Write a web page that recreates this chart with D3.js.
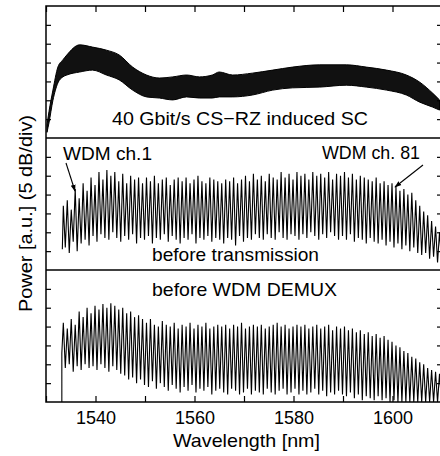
<!DOCTYPE html>
<html><head><meta charset="utf-8">
<script src="https://cdn.jsdelivr.net/npm/d3@7"></script>
<style>
html,body{margin:0;padding:0;background:#fff;}
svg{display:block;font-family:"Liberation Sans",Arial,sans-serif;}
</style></head>
<body><div id="chart"></div>
<script>
// ---------- DATA ----------
const xTicks = [1530, 1540, 1550, 1560, 1570, 1580, 1590, 1600, 1610];
const xTickLabels = [1540, 1560, 1580, 1600];
const yTicks = [-30, -25, -20, -15, -10, -5];   // dB, 5 dB/div

// Top panel: 40 Gbit/s CS-RZ induced SC (dense comb, drawn as envelope band)
const topNm    = [1530.2,1530.6,1531.4,1532.4,1533.4,1534.2,1536.8,1539.4,1542.2,1544.8,1547.5,1550.3,1552.9,1555.6,1558.4,1561.0,1563.6,1565.0,1567.7,1571.7,1575.8,1579.8,1585.3,1590.7,1594.7,1598.8,1602.8,1605.5,1608.1,1609.5];
const topUpper = [-31.5,-28,-22.3,-16.2,-14.3,-13,-10.3,-10.9,-11.7,-13,-16.2,-18.3,-19.1,-18.8,-18.3,-18.8,-18.3,-17.5,-18.3,-17.8,-17.0,-16.2,-15.6,-15.6,-16.2,-17.0,-18.3,-20.2,-23.1,-24.9];
const topLower = [-33.5,-31,-25,-20.4,-18.8,-18.3,-17.5,-17,-18.3,-19.6,-22.3,-24.1,-24.4,-24.9,-24.1,-24.4,-24.4,-24.1,-24.1,-23.6,-22.3,-21.7,-21.5,-21,-21.5,-22.3,-23.6,-25.5,-26.8,-27.6];

// WDM channel grid (100 GHz) shared by middle and bottom panels
const channelNm = [
1533.5,1534.3,1535.1,1535.9,1536.7,1537.5,1538.3,1539.1,1539.9,1540.7,
1541.5,1542.3,1543.1,1543.9,1544.7,1545.5,1546.3,1547.1,1547.9,1548.7,
1549.5,1550.3,1551.1,1551.9,1552.7,1553.5,1554.3,1555.1,1555.9,1556.7,
1557.5,1558.3,1559.1,1559.9,1560.7,1561.5,1562.3,1563.1,1563.9,1564.7,
1565.5,1566.3,1567.1,1567.9,1568.7,1569.5,1570.3,1571.1,1571.9,1572.7,
1573.5,1574.3,1575.1,1575.9,1576.7,1577.5,1578.3,1579.1,1579.9,1580.7,
1581.5,1582.3,1583.1,1583.9,1584.7,1585.5,1586.3,1587.1,1587.9,1588.7,
1589.5,1590.3,1591.1,1591.9,1592.7,1593.5,1594.3,1595.1,1595.9,1596.7,
1597.5,1598.3,1599.1,1599.9,1600.7,1601.5,1602.3,1603.1,1603.9,1604.7,
1605.5,1606.3,1607.1,1607.9,1608.7,1609.5];

// Middle panel: before transmission
const midLead = [1533.3, -29.5];
const midPeak = [
-18,-16.5,-19,-13.5,-16,-12,-14,-10.5,-12.5,-9,
-11,-8.5,-10,-9,-11.5,-9.5,-12,-10,-11,-10.5,
-12,-10.5,-11.5,-10,-12,-11,-10.5,-12.5,-11,-10.5,
-11.5,-10.5,-12,-11,-10,-11.5,-12,-10.5,-11,-11.5,
-12,-11,-11.5,-10.5,-12,-11,-10,-11.5,-9.5,-11,
-10,-11.5,-9.5,-10.5,-11,-9,-10.5,-9.5,-11,-9,
-10,-9.5,-11,-9,-10,-9.5,-10.5,-9,-11,-9.5,
-10,-9,-10.5,-9.5,-11,-10,-10.5,-11,-11.5,-10.5,
-12,-11.5,-12.5,-12,-13,-14,-13.5,-15,-14.5,-16.5,
-18,-19.5,-20.5,-22,-23.5,-25];
const midTrough = [
-29,-30.5,-27.5,-30,-28,-27,-28.5,-26,-27.5,-25.5,
-26.5,-27,-25,-26.5,-27.5,-26,-27,-25.5,-28,-26.5,
-27,-26,-28,-26.5,-27,-25.5,-27.5,-26,-27,-28,
-26.5,-27,-25.5,-28,-26.5,-27,-26,-27.5,-26.5,-27,
-28,-26.5,-27,-28.5,-26,-27.5,-26.5,-27,-25.5,-26.5,
-27,-25.5,-26.5,-27,-25,-26.5,-27,-25.5,-26,-27,
-25.5,-26.5,-25,-26,-27,-25.5,-26.5,-25,-26,-27,
-26,-27,-25.5,-27.5,-26.5,-27,-28,-26.5,-27.5,-28,
-27,-28.5,-27.5,-29,-28,-29.5,-28.5,-30,-29,-30.5,
-31,-30.5,-32,-31.5,-33,-32.5];

// Bottom panel: before WDM DEMUX
const botLead = [[1533.2, -35], [1533.2, -22]];
const botPeak = [
-14,-15.5,-13,-14.5,-11,-12.5,-10,-11.5,-9.5,-10.5,
-9,-10,-8.8,-9.5,-10.5,-10,-11.5,-11,-12.5,-12,
-13,-14,-13,-14.5,-15,-13.5,-14.5,-15,-14,-15.5,
-14.5,-15,-14,-15.5,-14.5,-15,-14,-15.5,-15,-14.5,
-15,-14.5,-15.5,-14.5,-15,-14,-15.5,-15,-14.5,-15,
-14.5,-15.5,-15,-14.5,-14,-15,-14.5,-15.5,-15,-14.5,
-15,-14.5,-15.5,-15,-14.5,-15.5,-15,-14.5,-16,-15,
-15.5,-15,-16,-15.5,-16.5,-16,-17,-16.5,-17.5,-17,
-18,-17.5,-18.5,-19,-20,-20.5,-21.5,-22,-23,-23.5,
-24.5,-25,-26,-26.5,-27,-27.5];
const botTrough = [
-26,-25,-27,-25.5,-26.5,-25,-26,-25.5,-26.5,-25,
-26,-27,-25.5,-26.5,-27.5,-28,-29,-28.5,-30,-29,
-30.5,-31,-29.5,-31.5,-30,-31,-32,-30.5,-31.5,-32.5,
-31,-32,-30.5,-32.5,-31.5,-32,-31,-33,-32,-31.5,
-32.5,-33,-31.5,-32,-33,-32.5,-31.5,-33,-32,-32.5,
-33,-31.5,-32.5,-33,-32,-31.5,-33,-32.5,-31.5,-33,
-32,-33,-32.5,-31.5,-33,-32,-33.5,-32.5,-33,-32,
-33,-33.5,-32.5,-34,-33,-34.5,-33.5,-34,-34.5,-33.5,
-34.5,-34,-35,-34.5,-35,-35,-35,-35,-35,-35,
-35,-35,-35,-35,-35,-35];

// ---------- LAYOUT ----------
const W = 440, H = 456;
const plotL = 46, plotR = 442, plotT = 6, panelH = 132;
const panelTops = [plotT, plotT + panelH, plotT + 2 * panelH];
const plotB = plotT + 3 * panelH;

const svg = d3.select("#chart").append("svg").attr("width", W).attr("height", H);
const x = d3.scaleLinear().domain([1530, 1610]).range([plotL, plotR]);
const yScales = panelTops.map(t => d3.scaleLinear().domain([-35, 0]).range([t + panelH, t]));

// clip paths
const defs = svg.append("defs");
panelTops.forEach((t, i) => {
  defs.append("clipPath").attr("id", "clip" + i)
    .append("rect").attr("x", plotL).attr("y", t).attr("width", plotR - plotL).attr("height", panelH);
});
defs.append("marker").attr("id", "arrow").attr("viewBox", "0 0 10 10")
  .attr("refX", 9).attr("refY", 5).attr("markerWidth", 7).attr("markerHeight", 7)
  .attr("markerUnits", "userSpaceOnUse").attr("orient", "auto")
  .append("path").attr("d", "M0,1.5 L10,5 L0,8.5 Z").attr("fill", "#000");

// build traces
function combTrace(lead, peaks, troughs) {
  const pts = lead.slice();
  channelNm.forEach((c, i) => {
    pts.push([c, peaks[i]]);
    const next = i < channelNm.length - 1 ? channelNm[i + 1] : c + (c - channelNm[i - 1]);
    pts.push([(c + next) / 2, troughs[i]]);
  });
  return pts;
}

// top panel band
const yT = yScales[0];
const band = topNm.map((n, i) => [n, topUpper[i], topLower[i]]);
svg.append("g").attr("clip-path", "url(#clip0)")
  .append("path").datum(band)
  .attr("d", d3.area().x(d => x(d[0])).y0(d => yT(d[2])).y1(d => yT(d[1])).curve(d3.curveMonotoneX))
  .attr("fill", "#111").attr("stroke", "#000").attr("stroke-width", 1);

// middle trace
const line1 = d3.line().x(d => x(d[0])).y(d => yScales[1](d[1]));
svg.append("g").attr("clip-path", "url(#clip1)")
  .append("path").datum(combTrace([midLead], midPeak, midTrough))
  .attr("d", line1).attr("fill", "none").attr("stroke", "#000").attr("stroke-width", 1.1);

// bottom trace
const line2 = d3.line().x(d => x(d[0])).y(d => yScales[2](d[1]));
svg.append("g").attr("clip-path", "url(#clip2)")
  .append("path").datum(combTrace(botLead, botPeak, botTrough))
  .attr("d", line2).attr("fill", "none").attr("stroke", "#000").attr("stroke-width", 1.1);

// axes: x ticks (inward) top & bottom
const xb = svg.append("g").attr("transform", `translate(0,${plotB})`)
  .call(d3.axisBottom(x).tickValues(xTicks).tickSizeInner(-6).tickSizeOuter(0).tickPadding(9)
    .tickFormat(d => xTickLabels.includes(d) ? d : ""));
const xt = svg.append("g").attr("transform", `translate(0,${plotT})`)
  .call(d3.axisTop(x).tickValues(xTicks).tickSizeInner(-6).tickSizeOuter(0).tickFormat(""));
[xb, xt].forEach(g => {
  g.select(".domain").remove();
  g.selectAll(".tick line").attr("stroke", "#000").attr("stroke-width", 1.2);
});
xb.selectAll(".tick text").attr("font-size", 18).attr("font-family", "Liberation Sans, Arial, sans-serif").attr("fill", "#000");

// y ticks per panel, left and right
yScales.forEach(ys => {
  const gl = svg.append("g").attr("transform", `translate(${plotL},0)`)
    .call(d3.axisLeft(ys).tickValues(yTicks).tickSizeInner(-5).tickSizeOuter(0).tickFormat(""));
  const gr = svg.append("g").attr("transform", `translate(${plotR},0)`)
    .call(d3.axisRight(ys).tickValues(yTicks).tickSizeInner(-5).tickSizeOuter(0).tickFormat(""));
  [gl, gr].forEach(g => {
    g.select(".domain").remove();
    g.selectAll(".tick line").attr("stroke", "#000").attr("stroke-width", 1.2);
  });
});

// frame and dividers
svg.append("rect").attr("x", plotL).attr("y", plotT).attr("width", plotR - plotL).attr("height", plotB - plotT)
  .attr("fill", "none").attr("stroke", "#000").attr("stroke-width", 1.5);
[panelTops[1], panelTops[2]].forEach(t => {
  svg.append("line").attr("x1", plotL).attr("x2", plotR).attr("y1", t).attr("y2", t)
    .attr("stroke", "#000").attr("stroke-width", 1.5);
});

// texts
function txt(s, xx, yy, len, opts = {}) {
  const t = svg.append("text").attr("x", xx).attr("y", yy).text(s)
    .attr("font-size", opts.size || 19).attr("fill", "#000");
  if (len) t.attr("textLength", len).attr("lengthAdjust", "spacingAndGlyphs");
  if (opts.transform) t.attr("transform", opts.transform);
  return t;
}
txt("40 Gbit/s CS\u2212RZ induced SC", 112, 125, 256);
txt("WDM ch.1", 63, 160, 89);
txt("WDM ch. 81", 322, 159, 98);
txt("before transmission", 152, 261, 167);
txt("before WDM DEMUX", 152, 296, 185);
txt("Wavelength [nm]", 173, 447, 147);
txt("Power [a.u.] (5 dB/div)", 0, 0, 197, { transform: "translate(32,312) rotate(-90)" });

// arrows
svg.append("line").attr("x1", 66).attr("y1", 163).attr("x2", 75).attr("y2", 191)
  .attr("stroke", "#000").attr("stroke-width", 1.1).attr("marker-end", "url(#arrow)");
svg.append("line").attr("x1", 423).attr("y1", 165).attr("x2", 395).attr("y2", 187)
  .attr("stroke", "#000").attr("stroke-width", 1.1).attr("marker-end", "url(#arrow)");
</script>
</body></html>
